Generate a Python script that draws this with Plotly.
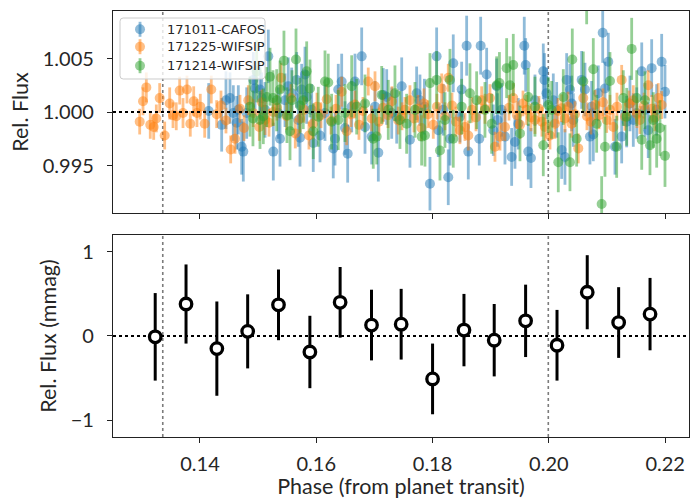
import plotly.graph_objects as go

# ---------------- light-curve points (phase, relative flux, 1-sigma error) ----------------
cafos_phase = [0.14150, 0.14373, 0.14447, 0.14516, 0.14573, 0.14631, 0.14659, 0.14717, 0.14745, 0.14803,
               0.14917, 0.14946, 0.15032, 0.15061, 0.15118, 0.15175, 0.15261, 0.15347, 0.15376, 0.15462,
               0.15518, 0.15577, 0.15663, 0.15690, 0.15720, 0.15749, 0.15806, 0.15835, 0.15921, 0.15948,
               0.16064, 0.16150, 0.16292, 0.16322, 0.16378, 0.16437, 0.16494, 0.16540, 0.16609, 0.16666,
               0.16781, 0.16838, 0.16953, 0.17010, 0.17067, 0.17152, 0.17211, 0.17297, 0.17383, 0.17469,
               0.17611, 0.17726, 0.17783, 0.17860, 0.17955, 0.18070, 0.18098, 0.18184, 0.18270, 0.18299,
               0.18356, 0.18471, 0.18500, 0.18586, 0.18614, 0.18803, 0.18827, 0.18930, 0.19044, 0.19102,
               0.19116, 0.19188, 0.19245, 0.19360, 0.19417, 0.19474, 0.19577, 0.19601, 0.19646, 0.19692,
               0.19761, 0.19904, 0.19924, 0.19959, 0.20076, 0.20134, 0.20220, 0.20277, 0.20306, 0.20363,
               0.20392, 0.20420, 0.20564, 0.20621, 0.20707, 0.20736, 0.20764, 0.20850, 0.20926, 0.20965,
               0.21022, 0.21137, 0.21252, 0.21338, 0.21395, 0.21452, 0.21511, 0.21597, 0.21653, 0.21709,
               0.21768, 0.21854, 0.21940, 0.21997]
cafos_flux = [1.00010, 0.99880, 1.00110, 1.00130, 0.99990, 0.99900, 1.00020, 0.99675, 0.99630, 0.99990,
              1.00300, 1.00220, 1.00210, 1.00130, 1.00020, 1.00520, 0.99630, 0.99990, 0.99750, 1.00110,
              1.00240, 1.00175, 1.00300, 0.99925, 0.99760, 1.00210, 1.00350, 1.00140, 1.00020, 0.99710,
              0.99780, 0.99990, 0.99660, 0.99750, 1.00210, 1.00285, 0.99850, 0.99610, 1.00050, 1.00285,
              1.00520, 0.99860, 0.99770, 1.00050, 0.99620, 1.00160, 1.00140, 0.99990, 0.99955, 1.00240,
              0.99740, 1.00175, 1.00110, 1.00050, 0.99330, 1.00520, 0.99830, 1.00020, 0.99390, 0.99750,
              1.00455, 0.99955, 1.00210, 1.00620, 0.99630, 0.99750, 1.00620, 1.00350, 0.99830, 1.00240,
              0.99925, 1.00020, 0.99770, 0.99580, 0.99720, 0.99890, 1.00620, 1.00440, 0.99630, 0.99570,
              1.00110, 1.00380, 1.00300, 1.00175, 1.00110, 1.00020, 0.99645, 0.99580, 1.00300, 1.00210,
              1.00080, 0.99925, 1.00300, 1.00210, 0.99770, 1.00050, 0.99790, 1.00175, 1.00740, 1.00220,
              1.00470, 0.99675, 0.99770, 0.99910, 1.00080, 0.99925, 0.99990, 1.00380, 1.00020, 0.99830,
              1.00410, 1.00020, 1.00470, 1.00190]
cafos_err = [0.0026, 0.0025, 0.0027, 0.0024, 0.0026, 0.0025, 0.0023, 0.0026, 0.0028, 0.0024,
             0.0026, 0.0025, 0.0027, 0.0024, 0.0026, 0.0025, 0.0027, 0.0024, 0.0026, 0.0025,
             0.0027, 0.0024, 0.0026, 0.0025, 0.0027, 0.0024, 0.0026, 0.0025, 0.0024, 0.0027,
             0.0025, 0.0026, 0.0028, 0.0025, 0.0024, 0.0026, 0.0025, 0.0027, 0.0024, 0.0026,
             0.0027, 0.0025, 0.0026, 0.0024, 0.0027, 0.0025, 0.0026, 0.0024, 0.0025, 0.0027,
             0.0026, 0.0025, 0.0024, 0.0026, 0.0025, 0.0027, 0.0025, 0.0024, 0.0026, 0.0025,
             0.0027, 0.0024, 0.0026, 0.0028, 0.0026, 0.0025, 0.0027, 0.0025, 0.0024, 0.0026,
             0.0025, 0.0025, 0.0026, 0.0027, 0.0025, 0.0024, 0.0027, 0.0025, 0.0026, 0.0028,
             0.0024, 0.0026, 0.0025, 0.0024, 0.0025, 0.0026, 0.0027, 0.0026, 0.0025, 0.0024,
             0.0026, 0.0025, 0.0027, 0.0025, 0.0026, 0.0024, 0.0025, 0.0026, 0.0028, 0.0025,
             0.0027, 0.0026, 0.0025, 0.0024, 0.0026, 0.0025, 0.0024, 0.0027, 0.0025, 0.0026,
             0.0027, 0.0024, 0.0026, 0.0025]

w1225_phase = [0.12963, 0.13020, 0.13077, 0.13145, 0.13204, 0.13249, 0.13307, 0.13393, 0.13479, 0.13536,
               0.13592, 0.13651, 0.13708, 0.13776, 0.13833, 0.13892, 0.13948, 0.14005, 0.14081, 0.14194,
               0.14287, 0.14361, 0.14447, 0.14528, 0.14602, 0.14688, 0.14757, 0.14831, 0.14917, 0.15020,
               0.15066, 0.15118, 0.15187, 0.15261, 0.15324, 0.15393, 0.15491, 0.15565, 0.15639, 0.15720,
               0.15788, 0.15874, 0.15943, 0.16012, 0.16081, 0.16179, 0.16253, 0.16339, 0.16437, 0.16523,
               0.16597, 0.16666, 0.16734, 0.16803, 0.16894, 0.16953, 0.17010, 0.17078, 0.17147, 0.17233,
               0.17302, 0.17410, 0.17474, 0.17525, 0.17611, 0.17680, 0.17749, 0.17809, 0.17852, 0.17921,
               0.18012, 0.18076, 0.18157, 0.18213, 0.18270, 0.18334, 0.18402, 0.18471, 0.18557, 0.18614,
               0.18678, 0.18746, 0.18844, 0.18901, 0.18987, 0.19073, 0.19159, 0.19245, 0.19314, 0.19388,
               0.19451, 0.19503, 0.19555, 0.19618, 0.19692, 0.19761, 0.19830, 0.19881, 0.19933, 0.20019,
               0.20105, 0.20157, 0.20220, 0.20277, 0.20329, 0.20392, 0.20449, 0.20506, 0.20592, 0.20655,
               0.20724, 0.20793, 0.20862, 0.20931, 0.20994, 0.21051, 0.21108, 0.21171, 0.21252, 0.21309,
               0.21378, 0.21452, 0.21515, 0.21567, 0.21636, 0.21709, 0.21773, 0.21825, 0.21881, 0.21940]
w1225_flux = [0.99910, 1.00100, 1.00230, 0.99880, 0.99860, 0.99940, 1.00130, 0.99780, 1.00080, 0.99970,
              0.99960, 1.00200, 0.99990, 1.00210, 0.99890, 1.00100, 0.99990, 1.00050, 0.99890, 1.00210,
              0.99980, 1.00060, 0.99920, 0.99650, 0.99750, 1.00030, 0.99850, 1.00110, 0.99990, 0.99860,
              1.00090, 0.99925, 0.99900, 1.00000, 1.00040, 1.00320, 0.99960, 1.00130, 0.99800, 0.99940,
              1.00020, 0.99780, 0.99890, 1.00050, 0.99970, 1.00120, 0.99920, 1.00030, 1.00190, 0.99820,
              0.99980, 1.00070, 0.99880, 1.00010, 1.00285, 0.99940, 1.00240, 0.99910, 1.00040, 0.99970,
              1.00100, 0.99920, 0.99960, 1.00020, 1.00110, 0.99940, 1.00030, 0.99850, 1.00080, 0.99980,
              0.99880, 1.00050, 1.00220, 0.99960, 1.00320, 1.00060, 0.99910, 0.99830, 0.99860, 0.99780,
              1.00020, 0.99950, 1.00110, 1.00030, 1.00130, 0.99675, 0.99770, 0.99860, 1.00040, 1.00130,
              0.99970, 0.99880, 1.00080, 1.00020, 0.99950, 0.99925, 1.00030, 0.99910, 0.99860, 0.99780,
              0.99890, 1.00010, 1.00035, 0.99940, 1.00050, 0.99890, 0.99980, 0.99660, 1.00130, 0.99960,
              0.99910, 1.00065, 0.99970, 1.00090, 0.99925, 1.00020, 0.99860, 1.00050, 1.00300, 0.99955,
              1.00080, 1.00110, 0.99980, 0.99925, 1.00060, 1.00250, 1.00030, 0.99950, 1.00130, 1.00065]
w1225_err = [0.0012, 0.0013, 0.0014, 0.0013, 0.0012, 0.0013, 0.0014, 0.0013, 0.0015, 0.0012,
             0.0013, 0.0013, 0.0014, 0.0013, 0.0012, 0.0014, 0.0013, 0.0012, 0.0013, 0.0013,
             0.0013, 0.0014, 0.0012, 0.0013, 0.0014, 0.0013, 0.0012, 0.0014, 0.0013, 0.0013,
             0.0012, 0.0014, 0.0013, 0.0013, 0.0012, 0.0014, 0.0013, 0.0013, 0.0014, 0.0013,
             0.0012, 0.0013, 0.0014, 0.0013, 0.0012, 0.0014, 0.0013, 0.0013, 0.0014, 0.0013,
             0.0012, 0.0013, 0.0014, 0.0013, 0.0013, 0.0012, 0.0014, 0.0013, 0.0013, 0.0012,
             0.0014, 0.0013, 0.0013, 0.0012, 0.0014, 0.0013, 0.0013, 0.0012, 0.0014, 0.0013,
             0.0013, 0.0012, 0.0014, 0.0013, 0.0013, 0.0012, 0.0014, 0.0013, 0.0013, 0.0014,
             0.0012, 0.0013, 0.0013, 0.0014, 0.0013, 0.0014, 0.0013, 0.0013, 0.0012, 0.0014,
             0.0013, 0.0013, 0.0012, 0.0014, 0.0013, 0.0013, 0.0012, 0.0014, 0.0013, 0.0013,
             0.0014, 0.0012, 0.0013, 0.0013, 0.0014, 0.0013, 0.0012, 0.0014, 0.0013, 0.0013,
             0.0012, 0.0014, 0.0013, 0.0013, 0.0012, 0.0014, 0.0013, 0.0013, 0.0014, 0.0013,
             0.0012, 0.0014, 0.0013, 0.0013, 0.0012, 0.0014, 0.0013, 0.0013, 0.0014, 0.0013]

w1214_phase = [0.14860, 0.14911, 0.14975, 0.15032, 0.15089, 0.15147, 0.15204, 0.15255, 0.15319, 0.15376,
               0.15444, 0.15496, 0.15548, 0.15582, 0.15651, 0.15720, 0.15776, 0.15835, 0.15892, 0.15948,
               0.16034, 0.16150, 0.16206, 0.16264, 0.16378, 0.16494, 0.16609, 0.16695, 0.16838, 0.16980,
               0.17039, 0.17125, 0.17238, 0.17353, 0.17439, 0.17554, 0.17697, 0.17812, 0.17869, 0.17955,
               0.18070, 0.18127, 0.18213, 0.18299, 0.18356, 0.18500, 0.18643, 0.18758, 0.18901, 0.19016,
               0.19102, 0.19150, 0.19274, 0.19331, 0.19388, 0.19503, 0.19646, 0.19761, 0.19904, 0.19990,
               0.20048, 0.20162, 0.20248, 0.20363, 0.20403, 0.20478, 0.20592, 0.20650, 0.20764, 0.20822,
               0.20908, 0.20965, 0.21051, 0.21166, 0.21280, 0.21338, 0.21424, 0.21511, 0.21597, 0.21653,
               0.21739, 0.21796, 0.21854, 0.21911, 0.21997]
w1214_flux = [1.00050, 0.99940, 1.00380, 0.99925, 0.99960, 1.00140, 1.00330, 1.00130, 1.00110, 1.00210,
              1.00480, 0.99970, 0.99820, 1.00110, 1.00490, 1.00060, 1.00110, 1.00380, 1.00220, 0.99820,
              0.99955, 1.00285, 1.00275, 0.99910, 0.99925, 0.99990, 1.00240, 1.00050, 1.00080, 0.99750,
              0.99770, 1.00160, 1.00020, 1.00175, 0.99925, 0.99890, 1.00020, 0.99770, 0.99780, 1.00270,
              1.00300, 0.99640, 0.99925, 1.00300, 0.99750, 1.00050, 1.00175, 1.00110, 1.00020, 0.99890,
              1.00250, 1.00270, 1.00410, 1.00250, 1.00440, 0.99800, 1.00140, 1.00050, 0.99690, 1.00065,
              1.00020, 0.99530, 1.00140, 0.99530, 1.00490, 0.99750, 1.00285, 1.01080, 1.00400, 0.99890,
              0.99140, 0.99675, 1.00290, 0.99675, 1.00130, 0.99955, 1.00590, 1.00130, 0.99740, 1.00110,
              0.99690, 0.99925, 0.99750, 0.99850, 0.99590]
w1214_err = [0.0028, 0.0026, 0.0029, 0.0027, 0.0026, 0.0028, 0.0027, 0.0026, 0.0029, 0.0027,
             0.0028, 0.0026, 0.0027, 0.0028, 0.0029, 0.0026, 0.0027, 0.0028, 0.0027, 0.0026,
             0.0028, 0.0029, 0.0027, 0.0026, 0.0028, 0.0027, 0.0029, 0.0026, 0.0027, 0.0028,
             0.0026, 0.0027, 0.0028, 0.0026, 0.0027, 0.0028, 0.0026, 0.0027, 0.0029, 0.0028,
             0.0027, 0.0028, 0.0026, 0.0029, 0.0027, 0.0026, 0.0028, 0.0027, 0.0026, 0.0028,
             0.0027, 0.0029, 0.0028, 0.0027, 0.0029, 0.0026, 0.0027, 0.0028, 0.0029, 0.0026,
             0.0027, 0.0028, 0.0026, 0.0027, 0.0029, 0.0026, 0.0028, 0.0026, 0.0029, 0.0027,
             0.0026, 0.0028, 0.0027, 0.0029, 0.0026, 0.0027, 0.0029, 0.0026, 0.0028, 0.0027,
             0.0028, 0.0026, 0.0027, 0.0026, 0.0029]

# ---------------- binned light curve (mmag) ----------------
bin_phase = [0.1323, 0.1376, 0.1429, 0.1482, 0.1535, 0.1589, 0.1641, 0.1695, 0.1746,
             0.1800, 0.1854, 0.1906, 0.1960, 0.2014, 0.2066, 0.2120, 0.2174]
bin_mmag = [-0.01, 0.38, -0.15, 0.055, 0.37, -0.19, 0.40, 0.13, 0.14,
            -0.51, 0.07, -0.05, 0.18, -0.11, 0.52, 0.16, 0.26]
bin_err = [0.52, 0.47, 0.56, 0.44, 0.42, 0.43, 0.42, 0.42, 0.42,
           0.42, 0.43, 0.43, 0.43, 0.42, 0.44, 0.42, 0.43]

# phases of the two reference epochs marked by vertical lines
event_phase = [0.1336, 0.1999]

x_ticks = [0.14, 0.16, 0.18, 0.20, 0.22]
x_ticktext = ["0.14", "0.16", "0.18", "0.20", "0.22"]
x_range = [0.12504, 0.2241]

FONT = "Lato"
TXT = "#262626"

series = [
    ("171011-CAFOS", cafos_phase, cafos_flux, cafos_err, (31, 119, 180)),
    ("171225-WIFSIP", w1225_phase, w1225_flux, w1225_err, (255, 127, 14)),
    ("171214-WIFSIP", w1214_phase, w1214_flux, w1214_err, (44, 160, 44)),
]

fig = go.Figure()

for name, ph, fl, er, (r, g, b) in series:
    rgba = f"rgba({r},{g},{b},0.5)"
    fig.add_trace(go.Scatter(
        x=ph, y=fl, mode="markers", name=name, showlegend=False,
        xaxis="x", yaxis="y",
        marker=dict(color=rgba, size=10, line=dict(width=0)),
        error_y=dict(type="data", array=er, visible=True, color=rgba, thickness=2.8, width=0),
    ))

fig.add_trace(go.Scatter(
    x=bin_phase, y=bin_mmag, mode="markers", showlegend=False,
    xaxis="x2", yaxis="y2",
    marker=dict(color="white", size=11.5, line=dict(color="black", width=3.3)),
    error_y=dict(type="data", array=bin_err, visible=True, color="black", thickness=3, width=0),
))

shapes = []
for ev in event_phase:
    for xa, ya in (("x", "y domain"), ("x2", "y2 domain")):
        shapes.append(dict(type="line", xref=xa, yref=ya, x0=ev, x1=ev, y0=0, y1=1,
                           line=dict(color="rgba(110,110,110,0.9)", width=1.6, dash="dot"),
                           layer="below"))
shapes.append(dict(type="line", xref="x domain", yref="y", x0=0, x1=1, y0=1.0, y1=1.0,
                   line=dict(color="black", width=2, dash="dot"), layer="above"))
shapes.append(dict(type="line", xref="x2 domain", yref="y2", x0=0, x1=1, y0=0, y1=0,
                   line=dict(color="black", width=2, dash="dot"), layer="below"))

# ---- legend box drawn inside the upper panel (axis-domain coordinates) ----
lx0, lx1, ly0, ly1 = 0.0122, 0.2639, 0.6634, 0.9653
rx, ry = 0.0055, 0.016
box_path = (f"M {lx0 + rx},{ly1} L {lx1 - rx},{ly1} Q {lx1},{ly1} {lx1},{ly1 - ry} "
            f"L {lx1},{ly0 + ry} Q {lx1},{ly0} {lx1 - rx},{ly0} "
            f"L {lx0 + rx},{ly0} Q {lx0},{ly0} {lx0},{ly0 + ry} "
            f"L {lx0},{ly1 - ry} Q {lx0},{ly1} {lx0 + rx},{ly1} Z")
shapes.append(dict(type="path", xref="x domain", yref="y domain", path=box_path,
                   fillcolor="rgba(255,255,255,0.8)", line=dict(color="#cccccc", width=1),
                   layer="above"))

legend_y = [0.9094, 0.8233, 0.7292]
icon_x = 0.0469
text_x = 0.0903
annotations = []
for (name, _, _, _, (r, g, b)), yy in zip(series, legend_y):
    rgba = f"rgba({r},{g},{b},0.5)"
    shapes.append(dict(type="line", xref="x domain", yref="y domain",
                       x0=icon_x, x1=icon_x, ysizemode="pixel", yanchor=yy, y0=-7.5, y1=7.5,
                       line=dict(color=rgba, width=2.8), layer="above"))
    shapes.append(dict(type="circle", xref="x domain", yref="y domain",
                       xsizemode="pixel", xanchor=icon_x, x0=-5, x1=5,
                       ysizemode="pixel", yanchor=yy, y0=-5, y1=5,
                       fillcolor=rgba, line=dict(width=0), layer="above"))
    annotations.append(dict(xref="x domain", yref="y domain", x=text_x, y=yy,
                            xanchor="left", yanchor="middle", showarrow=False, text=name,
                            font=dict(family="DejaVu Sans", size=13, color=TXT)))

axis_common = dict(showline=True, linecolor="#222222", linewidth=1.3, mirror=True,
                   showgrid=False, zeroline=False, ticks="outside", ticklen=5,
                   tickcolor="#222222", tickwidth=1.2,
                   tickfont=dict(family=FONT, size=20, color=TXT))

fig.update_layout(
    width=690, height=499,
    margin=dict(l=113, r=1, t=11, b=62),
    paper_bgcolor="white", plot_bgcolor="white",
    showlegend=False,
    xaxis=dict(domain=[0, 1], range=x_range, anchor="y", tickvals=x_ticks,
               showticklabels=False, **axis_common),
    yaxis=dict(domain=[0.5258, 1.0], range=[0.99056, 1.00944], anchor="x",
               tickvals=[0.995, 1.000, 1.005], ticktext=["0.995", "1.000", "1.005"],
               ticklabelstandoff=9,
               title=dict(text="Rel. Flux", font=dict(family=FONT, size=21.5, color=TXT), standoff=8),
               **axis_common),
    xaxis2=dict(domain=[0, 1], range=x_range, anchor="y2", tickvals=x_ticks, ticktext=x_ticktext,
                ticklabelstandoff=4,
                title=dict(text="Phase (from planet transit)", font=dict(family=FONT, size=21.5, color=TXT),
                           standoff=2),
                **axis_common),
    yaxis2=dict(domain=[0.0, 0.4742], range=[-1.2, 1.2], anchor="x2",
                tickvals=[-1, 0, 1], ticktext=["\u22121", "0", "1"],
                ticklabelstandoff=9,
                title=dict(text="Rel. Flux (mmag)", font=dict(family=FONT, size=21.5, color=TXT), standoff=8),
                **axis_common),
    shapes=shapes,
    annotations=annotations,
)

fig.write_html("out.html")
